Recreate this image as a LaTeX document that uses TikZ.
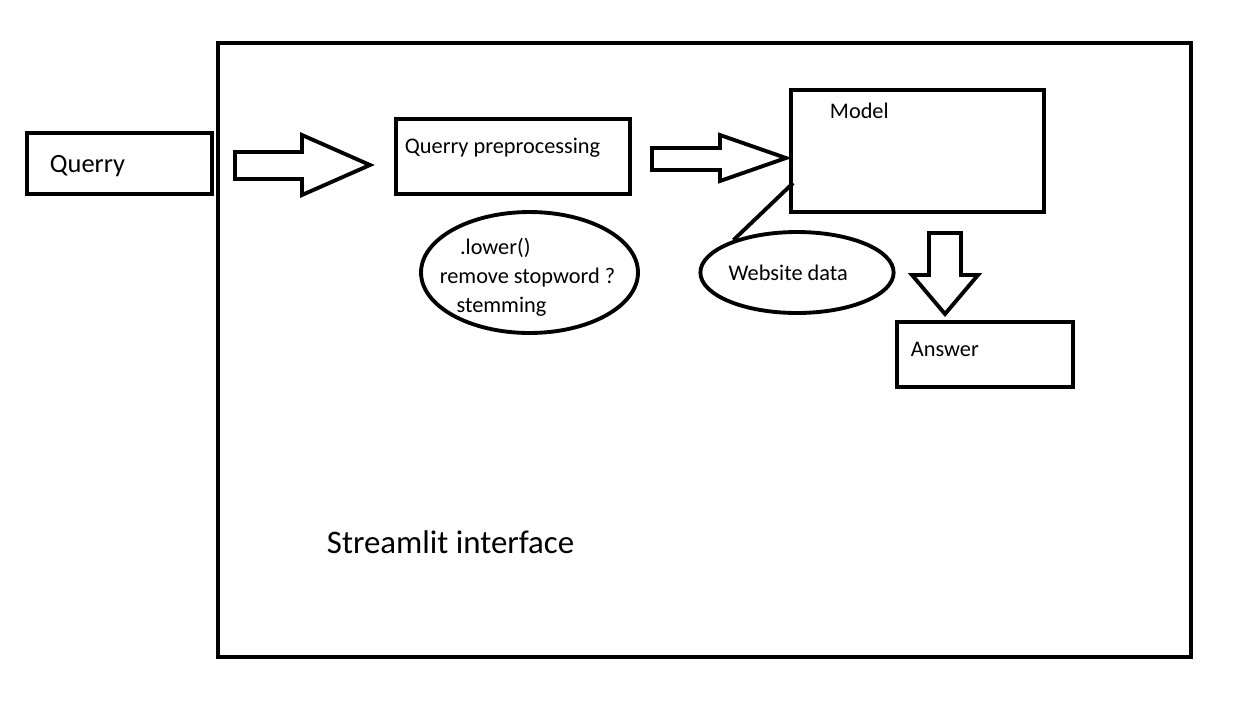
\documentclass[tikz,border=0pt]{standalone}
\usepackage{fontspec}
\setmainfont{Carlito}
\usepackage{tikz}
\usetikzlibrary{shapes.geometric,positioning,calc}

\begin{document}
\begin{tikzpicture}[x=0.02cm, y=-0.02cm, line width=2.2pt,
		box/.style={draw, rectangle, inner sep=0pt},
		oval/.style={draw, ellipse, inner sep=0pt, font=\fontsize{12.7}{16.5}\selectfont},
		txt/.style={anchor=west, inner sep=0pt, font=\fontsize{12.7}{16.5}\selectfont},
		blockarrow/.style={draw, line join=miter}]
		\useasboundingbox (0,0) rectangle (1260,708);

		\node[box, minimum width=19.46cm, minimum height=12.28cm] (frame) at (704.5,350) {};
		\node[box, minimum width=3.7cm, minimum height=1.22cm] (query) at (119.5,163.5) {};
		\node[box, minimum width=4.68cm, minimum height=1.5cm] (prep) at (513,156.5) {};
		\node[box, minimum width=5.06cm, minimum height=2.44cm] (model) at (917.5,151) {};
		\node[box, minimum width=3.52cm, minimum height=1.3cm] (answer) at (985,354.5) {};

		\node[txt, font=\fontsize{15}{18}\selectfont] (querytxt) at (48,166) {Querry};
		\node[txt] (preptxt) at (403,148) {Querry preprocessing};
		\node[txt] (modeltxt) at (828,111) {Model};
		\node[txt] (answertxt) at (909,349) {Answer};

		\node[oval, minimum width=4.34cm, minimum height=2.42cm] (steps) at (529.5,272.5) {};
		\node[txt, anchor=center, align=left] (stepstxt) at ($(steps.center)+(-2,5)$) {
			\hspace*{11.5pt}.lower()\\
			remove stopword ?\\
			\hspace*{9.5pt}stemming
		};
		\node[oval, minimum width=3.76cm, minimum height=1.62cm] (web) at (797,272.5) {Website data\hspace*{10pt}};

		% block arrows
		\draw[blockarrow] (235,152) -- (302,152) -- (302,135) -- (370,165) -- (302,195) -- (302,179) -- (235,179) -- cycle;
		\draw[blockarrow] (652,148) -- (720,148) -- (720,135) -- (786,158) -- (720,181) -- (720,170) -- (652,170) -- cycle;
		\draw[blockarrow] (929,233) -- (961,233) -- (961,275) -- (978,275) -- (945,314) -- (912,275) -- (929,275) -- cycle;

		\coordinate (modelin) at ($(model.west)+(4,32)$);
		\draw (web.153) -- (modelin);

		\node[txt, font=\fontsize{18.7}{22}\selectfont] (title) at (325,542) {Streamlit interface};
	\end{tikzpicture}
\end{document}
